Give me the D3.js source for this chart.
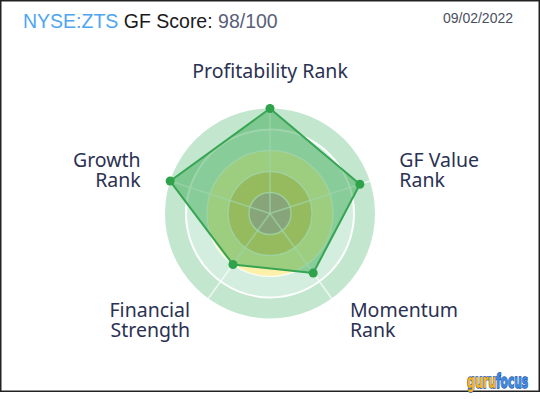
<!DOCTYPE html>
<html>
<head>
  <style>
    body { margin: 0; background: white; }
    svg { display: block; }
    .axis-label { font-family: "Noto Sans", sans-serif; font-size: 19.5px; fill: #2b3152; }
  </style>
</head>
<body>
  <div id="chart"></div>

  <script src="https://cdnjs.cloudflare.com/ajax/libs/d3/7.8.5/d3.min.js"></script>
  <script>
    // Datos
    const ticker = "NYSE:ZTS";
    const score = "98/100";
    const fecha = "09/02/2022";
    const ejes = ["Profitability Rank", "GF Value Rank", "Momentum Rank", "Financial Strength", "Growth Rank"];
    const etiquetas = [["Profitability Rank"], ["GF Value", "Rank"], ["Momentum", "Rank"], ["Financial", "Strength"], ["Growth", "Rank"]];
    const rangos = [10, 9, 7, 6, 10];
    const bandas = [0, 2, 4, 6, 8, 10];

    // Estilos
    const coloresBanda = ["#d3a5a0", "#eecf6e", "#fcf0aa", "#d3eedf", "#c3e6ce"];
    const width = 540, height = 399;
    const cx = 270, cy = 213.5, radio = 105;

    const svg = d3.select("#chart").append("svg")
      .attr("width", width)
      .attr("height", height);

    // Marco
    svg.append("rect")
      .attr("x", 0.75).attr("y", 0.75)
      .attr("width", 538.5).attr("height", 390.5)
      .attr("fill", "white")
      .attr("stroke", "#222")
      .attr("stroke-width", 1.5);

    // Título
    const titulo = svg.append("text")
      .attr("x", 23).attr("y", 27.5)
      .style("font-family", "'Liberation Sans', Arial, sans-serif")
      .style("font-size", "19.5px");
    titulo.append("tspan").attr("fill", "#4ea5f2").text(ticker);
    titulo.append("tspan").attr("fill", "#1a1a1a").text(" GF Score: ");
    titulo.append("tspan").attr("fill", "#5a6078").text(score);

    svg.append("text")
      .attr("x", 513).attr("y", 22.5)
      .attr("text-anchor", "end")
      .style("font-family", "'Liberation Sans', Arial, sans-serif")
      .style("font-size", "14px")
      .attr("fill", "#4a4f5e")
      .text(fecha);

    // Escalas
    const r = d3.scaleLinear().domain([0, 10]).range([0, radio]);
    const angulo = d3.scaleLinear().domain([0, ejes.length]).range([0, 2 * Math.PI]);

    const g = svg.append("g").attr("transform", `translate(${cx},${cy})`);

    // Bandas de fondo
    const arco = d3.arc().startAngle(0).endAngle(2 * Math.PI);
    g.selectAll("path.banda")
      .data(d3.pairs(bandas))
      .join("path")
      .attr("class", "banda")
      .attr("d", d => arco({ innerRadius: r(d[0]), outerRadius: r(d[1]) }))
      .attr("fill", (d, i) => coloresBanda[i]);

    // Rejilla
    g.selectAll("circle.rejilla")
      .data(bandas.slice(1, -1))
      .join("circle")
      .attr("class", "rejilla")
      .attr("r", d => r(d))
      .attr("fill", "none")
      .attr("stroke", "white")
      .attr("stroke-opacity", d => d === 8 ? 0.95 : 0.7)
      .attr("stroke-width", d => d === 8 ? 2 : 1.5);

    const punto = (i, v) => {
      const a = angulo(i) - Math.PI / 2;
      return [r(v) * Math.cos(a), r(v) * Math.sin(a)];
    };

    g.selectAll("line.radio")
      .data(ejes)
      .join("line")
      .attr("class", "radio")
      .attr("x1", 0).attr("y1", 0)
      .attr("x2", (d, i) => punto(i, 10)[0])
      .attr("y2", (d, i) => punto(i, 10)[1])
      .attr("stroke", "white")
      .attr("stroke-opacity", 0.7)
      .attr("stroke-width", 1.5);

    // Polígono de datos
    const linea = d3.lineRadial()
      .angle((d, i) => angulo(i))
      .radius(d => r(d))
      .curve(d3.curveLinearClosed);

    g.append("path")
      .datum(rangos)
      .attr("d", linea)
      .attr("fill", "rgb(52,165,76)")
      .attr("fill-opacity", 0.47)
      .attr("stroke", "#36a552")
      .attr("stroke-width", 2)
      .attr("stroke-linejoin", "round");

    g.selectAll("circle.vertice")
      .data(rangos)
      .join("circle")
      .attr("class", "vertice")
      .attr("cx", (d, i) => punto(i, d)[0])
      .attr("cy", (d, i) => punto(i, d)[1])
      .attr("r", 4.5)
      .attr("fill", "#2fa24c");

    // Etiquetas
    const rEtiqueta = 136;
    etiquetas.forEach((lineas, i) => {
      const a = angulo(i) - Math.PI / 2;
      const x = rEtiqueta * Math.cos(a), y = rEtiqueta * Math.sin(a);
      const ancla = Math.abs(Math.cos(a)) < 0.01 ? "middle" : (Math.cos(a) > 0 ? "start" : "end");
      const dy0 = lineas.length === 1 ? 0 : (Math.sin(a) > 0 ? -6.5 : -4);
      const t = g.append("text")
        .attr("class", "axis-label")
        .attr("text-anchor", ancla);
      lineas.forEach((l, j) => {
        t.append("tspan")
          .attr("x", x)
          .attr("y", y + dy0 + j * 19.5)
          .text(l);
      });
    });

    // Logo
    const estiloLogo = sel => sel
      .style("font-family", "'DejaVu Sans', sans-serif")
      .style("font-weight", "bold")
      .style("font-size", "19px")
      .attr("lengthAdjust", "spacingAndGlyphs")
      .attr("stroke-width", 1.4)
      .attr("paint-order", "stroke");
    svg.append("text").call(estiloLogo)
      .attr("x", 467).attr("y", 388)
      .attr("textLength", 29)
      .attr("fill", "#f7b31b").attr("stroke", "#1d56a6")
      .text("guru");
    svg.append("text").call(estiloLogo)
      .attr("x", 496).attr("y", 388)
      .attr("textLength", 32)
      .attr("fill", "#3f8ae0").attr("stroke", "#1d4f9a")
      .text("focus");
  </script>
</body>
</html>
